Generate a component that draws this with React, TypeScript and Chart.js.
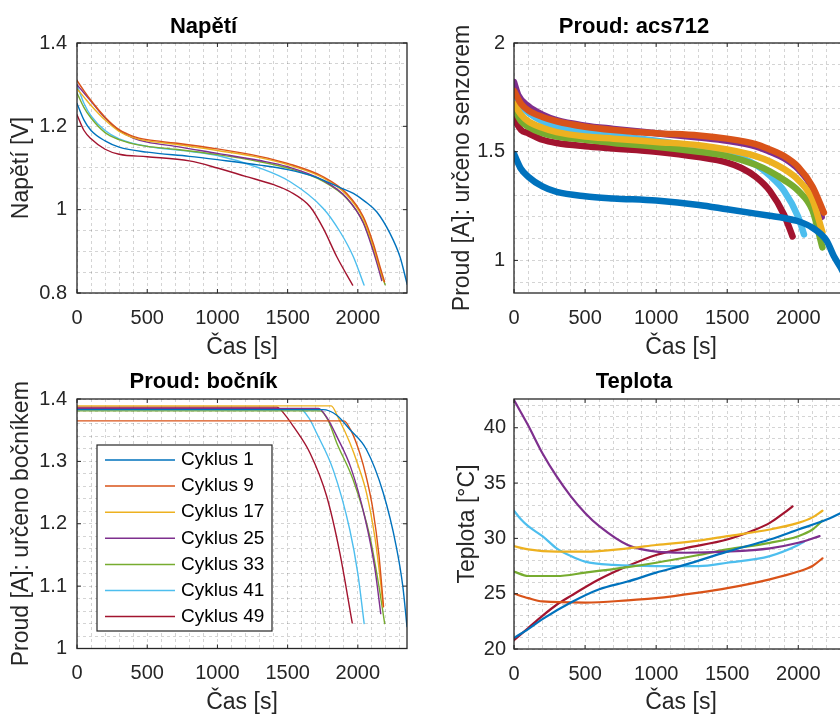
import React, { useEffect, useRef } from "react";
import { Chart, registerables } from "chart.js";

Chart.register(...registerables);
Chart.defaults.font.family = '"Liberation Sans", Arial, Helvetica, sans-serif';

// ---------- shared ----------
const CYCLE_LABELS = ["Cyklus 1", "Cyklus 9", "Cyklus 17", "Cyklus 25", "Cyklus 33", "Cyklus 41", "Cyklus 49"];
const CYCLE_COLORS = ["#0072BD", "#D95319", "#EDB120", "#7E2F8E", "#77AC30", "#4DBEEE", "#A2142F"];

const X_LABEL = "Čas [s]";
const X_MIN = 0;
const X_MAX = 2350;
const X_MAJOR = [0, 500, 1000, 1500, 2000];
const X_GRID = [0, 100, 200, 300, 400, 500, 600, 700, 800, 900, 1000, 1100, 1200, 1300, 1400, 1500, 1600, 1700, 1800, 1900, 2000, 2100, 2200, 2300];

// ---------- Napětí ----------
const napetiC1 = [[0, 1.255], [50, 1.215], [100, 1.19], [200, 1.165], [300, 1.15], [500, 1.138], [800, 1.128], [1000, 1.12], [1300, 1.107], [1500, 1.096], [1700, 1.078], [1873, 1.053], [1968, 1.039], [2050, 1.02], [2134, 0.995], [2229, 0.943], [2300, 0.887], [2352, 0.82]];
const napetiC9 = [[0, 1.31], [50, 1.285], [100, 1.262], [200, 1.222], [300, 1.192], [400, 1.176], [500, 1.168], [700, 1.16], [1000, 1.146], [1300, 1.128], [1500, 1.111], [1754, 1.079], [1921, 1.039], [2039, 0.983], [2110, 0.919], [2158, 0.863], [2190, 0.827]];
const napetiC17 = [[0, 1.29], [50, 1.27], [100, 1.25], [200, 1.215], [300, 1.188], [400, 1.173], [500, 1.165], [700, 1.157], [1000, 1.142], [1300, 1.125], [1500, 1.108], [1754, 1.076], [1921, 1.035], [2039, 0.978], [2110, 0.912], [2155, 0.86], [2185, 0.828]];
const napetiC25 = [[0, 1.3], [50, 1.28], [100, 1.26], [200, 1.22], [300, 1.19], [400, 1.172], [500, 1.162], [700, 1.152], [1000, 1.135], [1300, 1.118], [1500, 1.103], [1754, 1.07], [1921, 1.028], [2039, 0.968], [2110, 0.9], [2150, 0.855], [2170, 0.83]];
const napetiC33 = [[0, 1.28], [50, 1.245], [100, 1.22], [200, 1.185], [300, 1.168], [400, 1.158], [500, 1.152], [700, 1.145], [1000, 1.132], [1300, 1.115], [1500, 1.1], [1754, 1.068], [1921, 1.027], [2039, 0.97], [2110, 0.905], [2160, 0.85], [2194, 0.82]];
const napetiC41 = [[0, 1.3], [50, 1.255], [100, 1.225], [200, 1.19], [300, 1.17], [500, 1.152], [800, 1.14], [1000, 1.13], [1300, 1.1], [1518, 1.067], [1754, 1.003], [1873, 0.947], [1968, 0.887], [2044, 0.819]];
const napetiC49 = [[0, 1.228], [50, 1.19], [100, 1.17], [200, 1.145], [300, 1.133], [500, 1.127], [800, 1.117], [1000, 1.1], [1200, 1.08], [1400, 1.06], [1518, 1.043], [1660, 1.007], [1754, 0.955], [1850, 0.887], [1963, 0.819]];
const NAPETI_Y_MAJOR = [0.8, 1, 1.2, 1.4];
const NAPETI_Y_GRID = [0.8, 0.85, 0.9, 0.95, 1, 1.05, 1.1, 1.15, 1.2, 1.25, 1.3, 1.35, 1.4];

// ---------- Proud: acs712 ----------
const acsC1 = [[0, 1.49], [50, 1.42], [100, 1.385], [200, 1.34], [300, 1.315], [500, 1.295], [700, 1.285], [1000, 1.275], [1300, 1.255], [1500, 1.235], [1700, 1.215], [1800, 1.205], [1900, 1.195], [2000, 1.18], [2100, 1.15], [2200, 1.09], [2250, 1.02], [2300, 0.965], [2350, 0.9]];
const acsC9 = [[0, 1.78], [50, 1.72], [100, 1.69], [200, 1.66], [300, 1.64], [500, 1.615], [700, 1.6], [1000, 1.585], [1300, 1.575], [1500, 1.56], [1700, 1.535], [1800, 1.51], [1900, 1.48], [2000, 1.43], [2100, 1.34], [2180, 1.22]];
const acsC17 = [[0, 1.72], [50, 1.67], [100, 1.64], [200, 1.61], [300, 1.59], [500, 1.57], [700, 1.56], [1000, 1.545], [1300, 1.53], [1500, 1.51], [1700, 1.48], [1800, 1.455], [1900, 1.42], [2000, 1.37], [2100, 1.28], [2170, 1.13]];
const acsC25 = [[0, 1.82], [30, 1.76], [100, 1.71], [200, 1.67], [300, 1.645], [500, 1.62], [700, 1.605], [1000, 1.585], [1300, 1.565], [1500, 1.55], [1700, 1.525], [1800, 1.5], [1900, 1.47], [2000, 1.42], [2100, 1.33], [2165, 1.2]];
const acsC33 = [[0, 1.7], [50, 1.64], [100, 1.615], [200, 1.585], [300, 1.57], [500, 1.555], [700, 1.54], [1000, 1.523], [1300, 1.5], [1500, 1.48], [1700, 1.44], [1800, 1.41], [1900, 1.37], [2000, 1.32], [2100, 1.23], [2170, 1.06]];
const acsC41 = [[0, 1.77], [50, 1.71], [100, 1.68], [200, 1.64], [300, 1.615], [500, 1.59], [700, 1.575], [1000, 1.55], [1300, 1.52], [1500, 1.495], [1700, 1.44], [1800, 1.39], [1900, 1.32], [2000, 1.2], [2040, 1.12]];
const acsC49 = [[0, 1.65], [50, 1.6], [100, 1.585], [200, 1.555], [300, 1.54], [500, 1.525], [700, 1.515], [1000, 1.5], [1300, 1.475], [1500, 1.45], [1600, 1.425], [1700, 1.385], [1800, 1.32], [1900, 1.21], [1960, 1.11]];
const ACS_Y_MAJOR = [1, 1.5, 2];
const ACS_Y_GRID = [0.9, 1, 1.1, 1.2, 1.3, 1.4, 1.5, 1.6, 1.7, 1.8, 1.9, 2];

// ---------- Proud: bočník ----------
const bocnikC1 = [[0, 1.383], [1750, 1.383], [1850, 1.374], [1943, 1.351], [2061, 1.319], [2180, 1.25], [2274, 1.163], [2320, 1.1], [2350, 1.035]];
const bocnikC9 = [[0, 1.365], [1900, 1.365], [1950, 1.35], [2014, 1.313], [2060, 1.275], [2108, 1.222], [2150, 1.15], [2183, 1.067]];
const bocnikC17 = [[0, 1.389], [1810, 1.389], [1860, 1.37], [1943, 1.33], [2000, 1.295], [2061, 1.25], [2120, 1.18], [2160, 1.11], [2180, 1.067]];
const bocnikC25 = [[0, 1.385], [1720, 1.385], [1780, 1.37], [1850, 1.34], [1950, 1.29], [2050, 1.21], [2120, 1.13], [2163, 1.056]];
const bocnikC33 = [[0, 1.381], [1730, 1.381], [1790, 1.365], [1849, 1.33], [1967, 1.27], [2085, 1.18], [2150, 1.1], [2191, 1.04]];
const bocnikC41 = [[0, 1.384], [1589, 1.384], [1650, 1.37], [1707, 1.345], [1825, 1.286], [1943, 1.19], [2000, 1.12], [2045, 1.04]];
const bocnikC49 = [[0, 1.387], [1423, 1.387], [1480, 1.375], [1541, 1.356], [1660, 1.313], [1778, 1.244], [1872, 1.153], [1960, 1.041]];
const BOCNIK_Y_MAJOR = [1, 1.1, 1.2, 1.3, 1.4];
const BOCNIK_Y_GRID = [1, 1.02, 1.04, 1.06, 1.08, 1.1, 1.12, 1.14, 1.16, 1.18, 1.2, 1.22, 1.24, 1.26, 1.28, 1.3, 1.32, 1.34, 1.36, 1.38, 1.4];

// ---------- Teplota ----------
const teplotaC1 = [[0, 21.0], [100, 21.8], [200, 22.7], [400, 24.2], [600, 25.4], [800, 26.1], [1000, 26.9], [1200, 27.6], [1500, 28.8], [1800, 29.9], [2000, 30.8], [2200, 31.7], [2350, 32.6]];
const teplotaC9 = [[0, 25.0], [100, 24.6], [200, 24.3], [500, 24.2], [800, 24.4], [1000, 24.6], [1300, 25.1], [1500, 25.5], [1800, 26.3], [2000, 27.0], [2100, 27.5], [2170, 28.2]];
const teplotaC17 = [[0, 29.3], [100, 29.0], [300, 28.8], [500, 28.8], [800, 29.1], [1000, 29.4], [1300, 29.8], [1500, 30.2], [1800, 30.8], [2000, 31.4], [2100, 31.9], [2170, 32.5]];
const teplotaC25 = [[0, 42.5], [100, 40.2], [200, 37.7], [300, 35.6], [400, 33.8], [500, 32.3], [600, 31.1], [800, 29.4], [1000, 28.8], [1200, 28.7], [1500, 28.8], [1800, 29.1], [2000, 29.6], [2150, 30.2]];
const teplotaC33 = [[0, 27.0], [100, 26.6], [300, 26.6], [500, 26.9], [800, 27.4], [1000, 27.8], [1300, 28.5], [1500, 29.0], [1800, 29.6], [2000, 30.2], [2100, 30.8], [2170, 31.6]];
const teplotaC41 = [[0, 32.5], [50, 31.7], [100, 31.1], [200, 30.2], [300, 29.1], [400, 28.4], [500, 27.9], [700, 27.6], [1000, 27.5], [1300, 27.5], [1500, 27.8], [1800, 28.4], [2000, 29.4], [2040, 29.7]];
const teplotaC49 = [[0, 20.8], [100, 21.9], [200, 23.0], [300, 24.0], [400, 24.8], [600, 26.3], [800, 27.5], [1000, 28.5], [1200, 29.1], [1500, 29.9], [1700, 30.8], [1800, 31.4], [1900, 32.3], [1960, 32.9]];
const TEPLOTA_Y_MAJOR = [20, 25, 30, 35, 40];
const TEPLOTA_Y_GRID = [20, 21, 22, 23, 24, 25, 26, 27, 28, 29, 30, 31, 32, 33, 34, 35, 36, 37, 38, 39, 40, 41, 42];

// ---------- plugins ----------
const isIn = (arr: number[], v: number) => arr.some((a) => Math.abs(a - v) < 1e-9);

const boxPlugin = {
  id: "matlabBox",
  afterDatasetsDraw(chart: any, _a: any, opts: any) {
    const { ctx, chartArea } = chart;
    const { left, right, top, bottom } = chartArea;
    const xs = chart.scales.x;
    const ys = chart.scales.y;
    ctx.save();
    ctx.strokeStyle = "#262626";
    ctx.lineWidth = 1.3;
    ctx.setLineDash([]);
    ctx.strokeRect(left, top, right - left, bottom - top);
    const tl = 4;
    ctx.lineWidth = 1;
    ctx.beginPath();
    (opts.xMajor || []).forEach((v: number) => {
      const px = xs.getPixelForValue(v);
      ctx.moveTo(px, bottom);
      ctx.lineTo(px, bottom - tl);
      ctx.moveTo(px, top);
      ctx.lineTo(px, top + tl);
    });
    (opts.yMajor || []).forEach((v: number) => {
      const py = ys.getPixelForValue(v);
      ctx.moveTo(left, py);
      ctx.lineTo(left + tl, py);
      ctx.moveTo(right, py);
      ctx.lineTo(right - tl, py);
    });
    ctx.stroke();
    ctx.restore();
  },
};

const legendPlugin = {
  id: "boxLegend",
  afterDraw(chart: any, _a: any, opts: any) {
    if (!opts || !opts.display) return;
    const { ctx } = chart;
    ctx.save();
    ctx.fillStyle = "#ffffff";
    ctx.fillRect(opts.x0, opts.y0, opts.w, opts.h);
    ctx.strokeStyle = "#262626";
    ctx.lineWidth = 1.2;
    ctx.strokeRect(opts.x0, opts.y0, opts.w, opts.h);
    chart.data.datasets.forEach((ds: any, i: number) => {
      const y = opts.firstY + i * opts.rowH;
      ctx.strokeStyle = ds.borderColor;
      ctx.lineWidth = 1.5;
      ctx.beginPath();
      ctx.moveTo(opts.lineX0, y);
      ctx.lineTo(opts.lineX1, y);
      ctx.stroke();
      ctx.fillStyle = "#000000";
      ctx.font = `${opts.fontSize}px "Liberation Sans", Arial, sans-serif`;
      ctx.textBaseline = "middle";
      ctx.textAlign = "left";
      ctx.fillText(ds.label, opts.textX, y);
    });
    ctx.restore();
  },
};

// ---------- panel ----------
type PanelSpec = {
  left: number;
  top: number;
  width: number;
  height: number;
  title: string;
  yLabel: string;
  series: number[][][];
  lineWidth: number;
  yMin: number;
  yMax: number;
  yMajor: number[];
  yGrid: number[];
  yAxisWidth: number;
  xAxisHeight: number;
  padRight: number;
  titlePadTop: number;
  titlePadBottom: number;
  yTitlePad: number;
  yTickPad: number;
  legend?: any;
};

const fmt = (v: number) => String(Math.round(v * 1000) / 1000);

function Panel({ spec }: { spec: PanelSpec }) {
  const ref = useRef<HTMLCanvasElement | null>(null);
  useEffect(() => {
    if (!ref.current) return;
    const datasets = spec.series.map((pts, i) => ({
      label: CYCLE_LABELS[i],
      data: pts.map(([x, y]) => ({ x, y })),
      borderColor: CYCLE_COLORS[i],
      backgroundColor: CYCLE_COLORS[i],
      borderWidth: spec.lineWidth,
      pointRadius: 0,
      fill: false,
      cubicInterpolationMode: "monotone" as const,
      borderJoinStyle: "round" as const,
      borderCapStyle: "round" as const,
    }));
    const chart = new Chart(ref.current, {
      type: "line",
      data: { datasets },
      plugins: [boxPlugin, legendPlugin],
      options: {
        animation: false,
        responsive: false,
        events: [],
        layout: { padding: { left: 0, top: 0, right: spec.padRight, bottom: 0 } },
        scales: {
          x: {
            type: "linear",
            min: X_MIN,
            max: X_MAX,
            afterBuildTicks: (s: any) => {
              s.ticks = X_GRID.map((v) => ({ value: v }));
            },
            afterFit: (s: any) => {
              s.height = spec.xAxisHeight;
            },
            ticks: {
              autoSkip: false,
              maxRotation: 0,
              padding: 13,
              color: "#262626",
              font: { size: 20 },
              callback: (v: any) => (isIn(X_MAJOR, Number(v)) ? fmt(Number(v)) : ""),
            },
            grid: { color: "rgba(0,0,0,0.17)", lineWidth: 1, drawTicks: false },
            border: { display: false, dash: [3, 3] },
            title: { display: true, text: X_LABEL, color: "#262626", font: { size: 23 }, padding: { top: 0, bottom: 0 } },
          },
          y: {
            type: "linear",
            min: spec.yMin,
            max: spec.yMax,
            afterBuildTicks: (s: any) => {
              s.ticks = spec.yGrid.map((v) => ({ value: v }));
            },
            afterFit: (s: any) => {
              s.width = spec.yAxisWidth;
            },
            ticks: {
              autoSkip: false,
              padding: spec.yTickPad,
              color: "#262626",
              font: { size: 20 },
              callback: (v: any) => (isIn(spec.yMajor, Number(v)) ? fmt(Number(v)) : ""),
            },
            grid: { color: "rgba(0,0,0,0.17)", lineWidth: 1, drawTicks: false },
            border: { display: false, dash: [3, 3] },
            title: { display: true, text: spec.yLabel, color: "#262626", font: { size: 23 }, padding: { top: spec.yTitlePad, bottom: 0 } },
          },
        },
        plugins: {
          legend: { display: false },
          tooltip: { enabled: false },
          title: {
            display: true,
            text: spec.title,
            color: "#000000",
            font: { size: 22, weight: "bold" },
            padding: { top: spec.titlePadTop, bottom: spec.titlePadBottom },
          },
          matlabBox: { xMajor: X_MAJOR, yMajor: spec.yMajor },
          boxLegend: spec.legend || { display: false },
        } as any,
      },
    } as any);
    return () => chart.destroy();
  }, [spec]);
  return (
    <div style={{ position: "absolute", left: spec.left, top: spec.top, width: spec.width, height: spec.height }}>
      <canvas ref={ref} width={spec.width} height={spec.height} style={{ display: "block" }} />
    </div>
  );
}

const PANELS: PanelSpec[] = [
  {
    left: 0, top: 0, width: 420, height: 361,
    title: "Napětí", yLabel: "Napětí [V]",
    series: [napetiC1, napetiC9, napetiC17, napetiC25, napetiC33, napetiC41, napetiC49],
    lineWidth: 1.4, yMin: 0.8, yMax: 1.4, yMajor: NAPETI_Y_MAJOR, yGrid: NAPETI_Y_GRID,
    yAxisWidth: 77, xAxisHeight: 68, padRight: 13, titlePadTop: 14, titlePadBottom: 2.6, yTitlePad: 8, yTickPad: 10,
  },
  {
    left: 420, top: 0, width: 440, height: 361,
    title: "Proud: acs712", yLabel: "Proud [A]: určeno senzorem",
    series: [acsC1, acsC9, acsC17, acsC25, acsC33, acsC41, acsC49],
    lineWidth: 6.5, yMin: 0.85, yMax: 2, yMajor: ACS_Y_MAJOR, yGrid: ACS_Y_GRID,
    yAxisWidth: 94, xAxisHeight: 68, padRight: 12, titlePadTop: 14, titlePadBottom: 2.6, yTitlePad: 28.5, yTickPad: 9,
  },
  {
    left: 0, top: 357, width: 420, height: 359,
    title: "Proud: bočník", yLabel: "Proud [A]: určeno bočníkem",
    series: [bocnikC1, bocnikC9, bocnikC17, bocnikC25, bocnikC33, bocnikC41, bocnikC49],
    lineWidth: 1.4, yMin: 1, yMax: 1.4, yMajor: BOCNIK_Y_MAJOR, yGrid: BOCNIK_Y_GRID,
    yAxisWidth: 77, xAxisHeight: 67.5, padRight: 13, titlePadTop: 12, titlePadBottom: 3.6, yTitlePad: 8, yTickPad: 10,
    legend: { display: true, x0: 97, y0: 88, w: 175, h: 186, firstY: 103, rowH: 26.1, lineX0: 105, lineX1: 175, textX: 181, fontSize: 19 },
  },
  {
    left: 420, top: 357, width: 440, height: 359,
    title: "Teplota", yLabel: "Teplota [°C]",
    series: [teplotaC1, teplotaC9, teplotaC17, teplotaC25, teplotaC33, teplotaC41, teplotaC49],
    lineWidth: 2.2, yMin: 20, yMax: 42.6, yMajor: TEPLOTA_Y_MAJOR, yGrid: TEPLOTA_Y_GRID,
    yAxisWidth: 94, xAxisHeight: 67, padRight: 12, titlePadTop: 12, titlePadBottom: 3.6, yTitlePad: 33.5, yTickPad: 8,
  },
];

export default function App() {
  return (
    <div style={{ position: "fixed", left: 0, top: 0, width: 840, height: 714, overflow: "hidden", background: "#ffffff" }}>
      {PANELS.map((p, i) => (
        <Panel key={i} spec={p} />
      ))}
    </div>
  );
}
